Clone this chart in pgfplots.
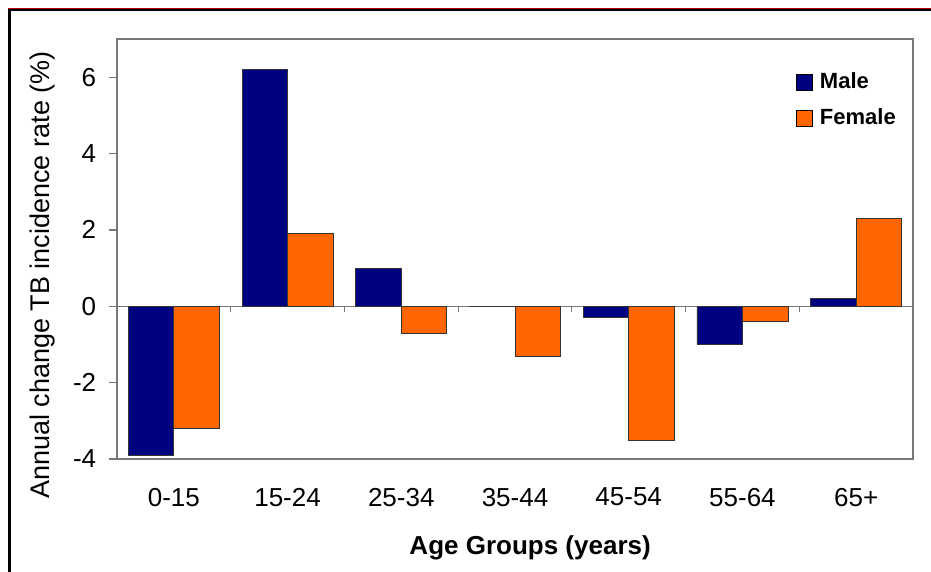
\documentclass[border=0pt]{standalone}
\usepackage{pgfplots}
\pgfplotsset{compat=1.18}
\usepackage{fontspec}
\setmainfont{Liberation Sans}
\definecolor{male}{RGB}{0,0,128}
\definecolor{female}{RGB}{255,102,0}
\definecolor{axgray}{RGB}{120,120,120}
\begin{document}
\fontsize{26bp}{31bp}\selectfont
\begin{tikzpicture}
\path[use as bounding box] (-117bp,-113bp) rectangle (814bp,459bp);
\draw[red!70!black, line width=1bp] (-109bp,450.5bp) -- (814bp,450.5bp);
\draw[black, line width=2.5bp] (-107.5bp,-113bp) -- (-107.5bp,449bp) -- (814bp,449bp);
\begin{axis}[
  at={(0,0)}, anchor=south west,
  scale only axis, width=796bp, height=420bp,
  ybar=0pt, bar width=0.4,
  xmin=-0.5, xmax=6.5, ymin=-4, ymax=7,
  xtick={0,...,6},
  xticklabels={0-15,15-24,25-34,35-44,45-54,55-64,65+},
  ytick={-4,-2,0,2,4,6},
  ytick pos=left,
  axis line style={axgray, line width=1.5bp},
  x tick style={draw=none},
  y tick style={axgray, line width=1.2bp},
  tick align=outside, major tick length=8bp,
  ticklabel style={font=\fontsize{26bp}{31bp}\selectfont},
  xticklabel style={yshift=-12bp},
  yticklabel style={xshift=-4bp},
  /pgf/number format/assume math mode=true,
  ylabel={Annual change TB incidence rate (\%)},
  ylabel style={at={(axis description cs:-0.094,0.438)}, anchor=center, rotate=0, font=\fontsize{27bp}{31bp}\selectfont},
  xlabel={\textbf{Age Groups (years)}},
  xlabel style={at={(axis description cs:0.519,-0.212)}, anchor=center, font=\fontsize{26bp}{31bp}\selectfont},
  legend style={at={(axis description cs:0.853,0.925)}, anchor=north west, draw=none, fill=none, inner sep=0pt,
    font=\fontsize{22bp}{26bp}\selectfont\bfseries, row sep=12bp, nodes={inner sep=2bp}},
  legend cell align=left,
  legend image code/.code={\draw[#1, draw=black, line width=0.8bp] (0bp,-8bp) rectangle (16bp,8bp); \path (21bp,0bp);},
  clip=false,
]
\draw[axgray, line width=1.2bp] (axis cs:-0.5,0) -- (axis cs:6.5,0);
\pgfplotsinvokeforeach{0.5,1.5,2.5,3.5,4.5,5.5}{
  \draw[axgray, line width=1bp] (axis cs:#1,0) -- ([yshift=-6bp]axis cs:#1,0);
}
\addplot[fill=male, draw=black!80, line width=0.8bp] coordinates {(0,-3.9) (1,6.2) (2,1.0) (3,0) (4,-0.3) (5,-1.0) (6,0.2)};
\addplot[fill=female, draw=black!80, line width=0.8bp] coordinates {(0,-3.2) (1,1.9) (2,-0.7) (3,-1.3) (4,-3.5) (5,-0.4) (6,2.3)};
\legend{Male,Female}
\end{axis}
\end{tikzpicture}
\end{document}
